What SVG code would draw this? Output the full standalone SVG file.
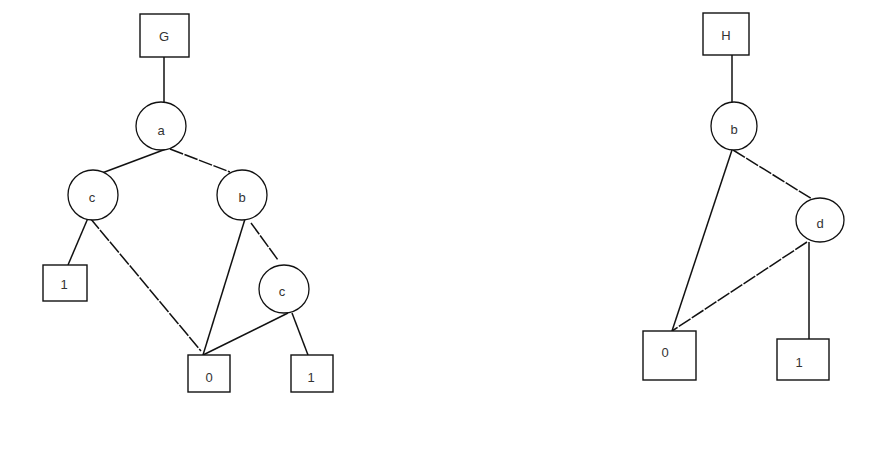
<svg xmlns="http://www.w3.org/2000/svg" width="887" height="449" viewBox="0 0 887 449">
<style>
.bg{fill:#ffffff}
.box{fill:#ffffff;stroke:#111;stroke-width:1.4}
.node{fill:#ffffff;stroke:#111;stroke-width:1.3}
.e{stroke:#111;stroke-width:1.5;fill:none}
.d{stroke-dasharray:14 1.5}
text{font-family:"Liberation Sans",Arial,sans-serif;font-size:13px;fill:#333;text-anchor:middle;dominant-baseline:central}
</style>
<rect class="bg" x="0" y="0" width="887" height="449"/>
<g id="connectors">
<line class="e" x1="164" y1="57" x2="164" y2="102"/>
<line class="e" x1="166" y1="149" x2="102" y2="173"/>
<line class="e d" x1="170" y1="149" x2="230" y2="172"/>
<line class="e" x1="88" y1="218" x2="68" y2="265"/>
<line class="e d" x1="90" y1="218" x2="201" y2="351"/>
<line class="e" x1="245" y1="219" x2="203" y2="355"/>
<line class="e d" x1="251" y1="223" x2="278" y2="260"/>
<line class="e" x1="288" y1="313" x2="203" y2="355"/>
<line class="e" x1="292" y1="313" x2="308" y2="355"/>
<line class="e" x1="732" y1="55" x2="732" y2="102"/>
<line class="e" x1="732" y1="150" x2="672" y2="331"/>
<line class="e d" x1="733" y1="150" x2="812" y2="199"/>
<line class="e d" x1="807" y1="242" x2="672" y2="331"/>
<line class="e" x1="809" y1="242" x2="809" y2="339"/>
</g>
<g id="G"><rect class="box" x="140" y="14" width="49" height="43"/><text x="164" y="36">G</text></g>
<g id="a"><ellipse class="node" cx="161" cy="126" rx="25" ry="24"/><text x="161" y="130">a</text></g>
<g id="c1"><ellipse class="node" cx="93" cy="195" rx="25" ry="25"/><text x="92" y="197">c</text></g>
<g id="b1"><ellipse class="node" cx="242" cy="195" rx="25" ry="25"/><text x="242" y="197">b</text></g>
<g id="one1"><rect class="box" x="43" y="265" width="44" height="36"/><text x="64" y="284">1</text></g>
<g id="c2"><ellipse class="node" cx="284" cy="289" rx="25" ry="24"/><text x="282" y="291">c</text></g>
<g id="zero1"><rect class="box" x="188" y="355" width="42" height="37"/><text x="209" y="377">0</text></g>
<g id="one2"><rect class="box" x="291" y="355" width="42" height="37"/><text x="311" y="377">1</text></g>
<g id="H"><rect class="box" x="703" y="13" width="46" height="42"/><text x="726" y="35">H</text></g>
<g id="b2"><ellipse class="node" cx="734" cy="126" rx="23" ry="24"/><text x="734" y="129">b</text></g>
<g id="d"><ellipse class="node" cx="820" cy="220" rx="24" ry="22"/><text x="820" y="223">d</text></g>
<g id="zero2"><rect class="box" x="643" y="331" width="53" height="49"/><text x="665" y="352">0</text></g>
<g id="one3"><rect class="box" x="777" y="339" width="52" height="41"/><text x="799" y="362">1</text></g>
</svg>
